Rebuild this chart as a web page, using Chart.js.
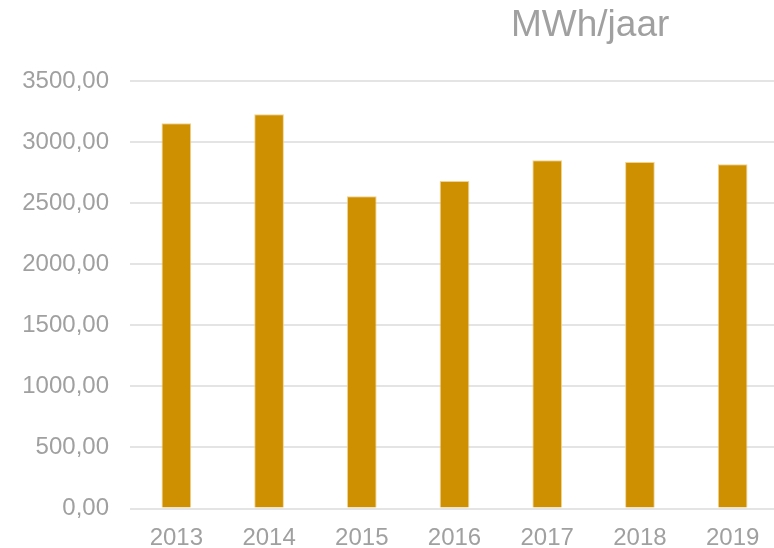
<!DOCTYPE html>
<html>
<head>
<meta charset="utf-8">
<script src="https://cdn.jsdelivr.net/npm/chart.js@4"></script>
<style>
  html, body { margin: 0; padding: 0; background: #ffffff; overflow: hidden; width: 774px; height: 548px; }
  #wrap { position: relative; width: 780px; height: 548px; }
  #title { position: absolute; left: 511px; top: 3px; font-family: "Liberation Sans", Arial, sans-serif; font-size: 37px; color: #a0a0a0; white-space: nowrap; line-height: 42px; }
</style>
</head>
<body>
<div id="wrap">
  <canvas id="c" width="780" height="548"></canvas>
  <div id="title">MWh/jaar</div>
</div>
<script>
const categories = ["2013", "2014", "2015", "2016", "2017", "2018", "2019"];
const values = [3154, 3227, 2556, 2682, 2851, 2837, 2818];
const yTicks = [0, 500, 1000, 1500, 2000, 2500, 3000, 3500];

const fontFam = '"Liberation Sans", Arial, sans-serif';
new Chart(document.getElementById('c'), {
  type: 'bar',
  data: {
    labels: categories,
    datasets: [{
      data: values,
      backgroundColor: '#CE8F00',
      borderColor: 'rgba(240,205,130,0.9)',
      borderWidth: 1,
      barPercentage: 0.32,
      categoryPercentage: 1.0
    }]
  },
  options: {
    responsive: false,
    animation: false,
    layout: { padding: { top: 81, left: 0, right: 1, bottom: 0 } },
    plugins: { legend: { display: false }, title: { display: false }, tooltip: { enabled: false } },
    scales: {
      x: {
        afterFit: (s) => { s.height = 39.5; },
        grid: { display: false, drawTicks: false },
        border: { display: false },
        ticks: { color: '#a0a0a0', font: { family: fontFam, size: 24 }, padding: 15 }
      },
      y: {
        min: 0, max: 3500,
        afterBuildTicks: (s) => { s.ticks = yTicks.map(v => ({ value: v })); },
        afterFit: (s) => { s.width = 130; },
        grid: { color: '#e4e4e4', lineWidth: 2, drawTicks: false },
        border: { display: false },
        ticks: {
          color: '#a0a0a0', font: { family: fontFam, size: 24 }, padding: 21,
          callback: (v) => v.toFixed(2).replace('.', ',')
        }
      }
    }
  }
});
</script>
</body>
</html>
